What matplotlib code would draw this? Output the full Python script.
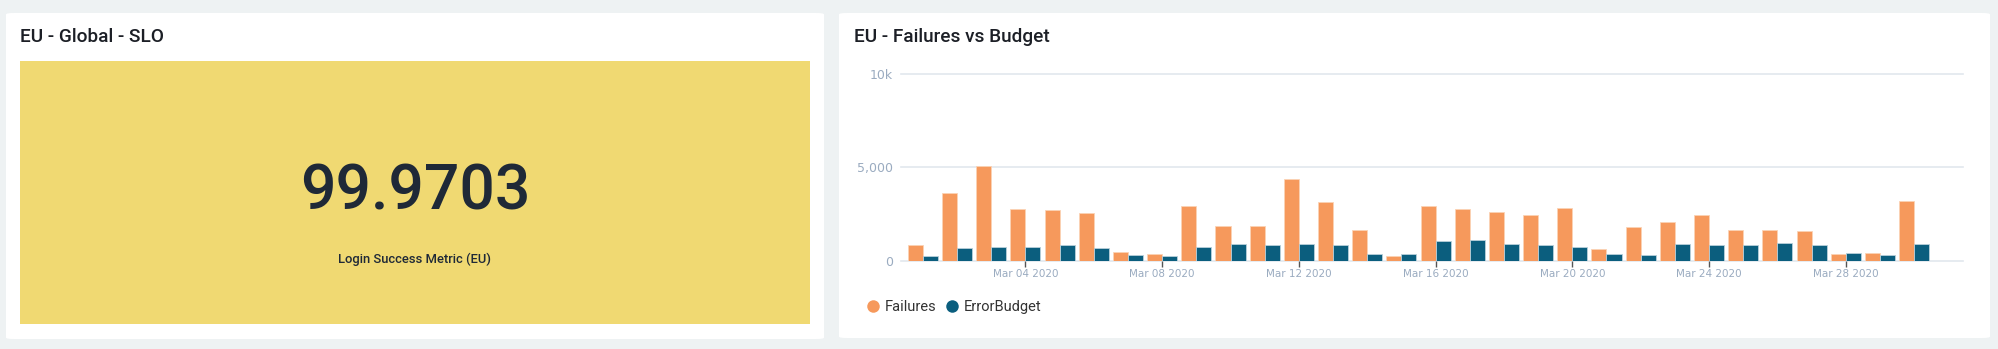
import numpy as np
import matplotlib
matplotlib.use("Agg")
import matplotlib.pyplot as plt
from matplotlib.patches import FancyBboxPatch, Rectangle
from matplotlib.lines import Line2D

plt.rcParams['font.family'] = ['Roboto', 'DejaVu Sans']

# daily data, Mar 01 - Mar 30 2020
days = np.arange('2020-03-01', '2020-03-31', dtype='datetime64[D]')
failures = [850, 3650, 5090, 2780, 2730, 2560, 470, 380, 2960, 1880,
            1890, 4370, 3140, 1660, 250, 2940, 2780, 2630, 2440, 2830,
            650, 1840, 2090, 2440, 1680, 1660, 1620, 380, 430, 3230]
error_budget = [290, 720, 760, 760, 850, 690, 340, 290, 760, 920,
                880, 920, 850, 360, 360, 1080, 1100, 900, 850, 760,
                380, 340, 900, 880, 880, 960, 850, 410, 340, 920]
tick_days = [3, 7, 11, 15, 19, 23, 27]
y_ticks = [0, 5000, 10000]
y_labels = ['0', '5,000', '10k']

slo_value = '99.9703'
slo_label = 'Login Success Metric (EU)'

W, H = 1999, 349
fig = plt.figure(figsize=(W / 100, H / 100), dpi=100)
fig.patch.set_facecolor('#eef2f3')


def px(x0, y0, x1, y1):
    # pixel box (top-left origin) -> figure fraction rect
    return [x0 / W, 1 - y1 / H, (x1 - x0) / W, (y1 - y0) / H]


def panel(x0, y0, x1, y1):
    r = px(x0, y0, x1, y1)
    p = FancyBboxPatch((r[0], r[1]), r[2], r[3],
                       boxstyle="round,pad=0,rounding_size=0.004",
                       transform=fig.transFigure, facecolor='white',
                       edgecolor='none', zorder=-2)
    fig.patches.append(p)


panel(6, 13, 824, 339)
panel(839, 13, 1990, 338)

# left tile
r = px(20, 61, 810, 324)
fig.patches.append(Rectangle((r[0], r[1]), r[2], r[3], transform=fig.transFigure,
                             facecolor='#f0d972', edgecolor='none', zorder=-1))
fig.text(20 / W, 1 - 37 / H, 'EU - Global - SLO', fontsize=13.7, color='#1c1f26',
         va='center', ha='left', fontweight='medium')
fig.text(415 / W, 1 - 192 / H, slo_value, fontsize=45, color='#1f2937',
         va='center', ha='center', fontweight='medium')
fig.text(415 / W, 1 - 259 / H, slo_label, fontsize=9.4, color='#1f2937',
         va='center', ha='center', fontweight='medium')

# right chart
fig.text(854 / W, 1 - 37 / H, 'EU - Failures vs Budget', fontsize=13.7, color='#1c1f26',
         va='center', ha='left', fontweight='medium')

ax = fig.add_axes(px(901, 74, 1963, 261))
ax.set_zorder(2)
ax.set_facecolor('none')
x = np.arange(len(days))
bw = 0.44
ax.bar(x - bw / 2, failures, bw, color='#f6995c', edgecolor='#fbd3b5', linewidth=0.6, zorder=3)
ax.bar(x + bw / 2, error_budget, bw, color='#0b5e7e', edgecolor='#b9d0da', linewidth=0.6, zorder=3)
ax.set_xlim(-0.64, 30.43)
ax.set_ylim(0, 10000)
for yv in y_ticks:
    ax.axhline(yv, color='#e1e7ee', linewidth=1.2, zorder=1, clip_on=False)
for s in ax.spines.values():
    s.set_visible(False)
ax.set_yticks(y_ticks)
ax.set_yticklabels(y_labels, fontfamily='DejaVu Sans')
ax.tick_params(axis='y', length=0, pad=6, labelsize=9, labelcolor='#9aabc0')
ax.set_xticks(tick_days)
ax.set_xticklabels([days[i].astype(object).strftime('%b %d %Y') for i in tick_days],
                   fontfamily='DejaVu Sans')
ax.tick_params(axis='x', length=4, width=1, color='#555555', pad=2,
               labelsize=7.5, labelcolor='#9aabc0')

handles = [Line2D([], [], marker='o', linestyle='none', markersize=9,
                  markerfacecolor='#f6995c', markeredgecolor='none', label='Failures'),
           Line2D([], [], marker='o', linestyle='none', markersize=9,
                  markerfacecolor='#0b5e7e', markeredgecolor='none', label='ErrorBudget')]
fig.legend(handles=handles, loc='center left', bbox_to_anchor=(858 / W, 1 - 307 / H),
           ncol=2, frameon=False, fontsize=10.5, handletextpad=0.3, columnspacing=0.6,
           handlelength=1.0, borderpad=0, labelcolor='#333333')

fig.savefig('out.png', dpi=100, facecolor=fig.get_facecolor())
